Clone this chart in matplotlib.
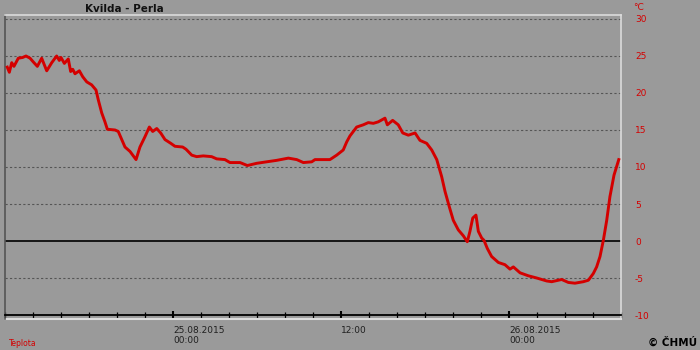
import matplotlib.pyplot as plt
import numpy as np

# hours since 24.08.2015 12:00, temperature in degrees C
hours = [0.16, 0.31, 0.48, 0.64, 0.95, 1.26, 1.5, 1.79, 2.02, 2.31, 2.62, 2.98,
         3.34, 3.69, 3.88, 4.0, 4.24, 4.52, 4.69, 4.84, 5.0, 5.31, 5.55, 5.84,
         6.19, 6.5, 6.66, 6.91, 7.14, 7.31, 7.86, 8.09, 8.57, 8.93, 9.36, 9.64,
         10.0, 10.31, 10.55, 10.84, 11.12, 11.43, 11.84, 12.14, 12.69, 12.93,
         13.34, 13.69, 14.16, 14.76, 15.12, 15.71, 16.07, 16.79, 17.31, 17.98,
         18.69, 19.41, 20.24, 20.84, 21.31, 21.91, 22.14, 22.98, 23.21, 23.69,
         24.16, 24.41, 24.64, 25.12, 25.59, 25.95, 26.31, 26.66, 27.14, 27.31,
         27.69, 28.09, 28.41, 28.81, 29.29, 29.64, 30.12, 30.48, 30.84, 31.19,
         31.43, 31.74, 32.02, 32.38, 32.74, 33.02, 33.21, 33.41, 33.64, 33.81,
         34.05, 34.21, 34.45, 34.76, 35.24, 35.71, 36.07, 36.31, 36.79, 37.38,
         37.98, 38.69, 39.05, 39.76, 40.24, 40.71, 41.31, 41.67, 42.02, 42.26,
         42.5, 42.74, 42.98, 43.21, 43.5, 43.84]
temps = [23.5, 22.8, 24.1, 23.6, 24.7, 24.8, 25.0, 24.7, 24.2, 23.6, 24.7, 23.0,
         24.1, 25.0, 24.4, 24.8, 24.0, 24.6, 22.9, 23.2, 22.6, 23.0, 22.2, 21.5,
         21.1, 20.4, 19.1, 17.3, 16.1, 15.1, 15.0, 14.8, 12.7, 12.1, 11.0, 12.7,
         14.1, 15.4, 14.8, 15.2, 14.6, 13.7, 13.2, 12.8, 12.7, 12.4,
         11.6, 11.4, 11.5, 11.4, 11.1, 11.0, 10.6, 10.6, 10.2, 10.5,
         10.7, 10.9, 11.2, 11.0, 10.6, 10.7, 11.0, 11.0, 11.0, 11.6,
         12.3, 13.4, 14.2, 15.4, 15.7, 16.0, 15.9, 16.1, 16.6, 15.7,
         16.3, 15.7, 14.6, 14.3, 14.6, 13.6, 13.2, 12.3, 11.0, 8.7,
         6.7, 4.6, 2.8, 1.5, 0.7, -0.1, 1.3, 3.1, 3.5, 1.3,
         0.4, 0.1, -1.0, -2.1, -2.9, -3.2, -3.8, -3.5, -4.3, -4.7,
         -5.0, -5.4, -5.5, -5.2, -5.6, -5.7, -5.5, -5.3, -4.4, -3.5,
         -2.1, 0.1, 2.8, 6.0, 8.9, 11.0]

y_ticks = [-10, -5, 0, 5, 10, 15, 20, 25, 30]
x_major = [12, 24, 36]
x_major_labels = ["25.08.2015\n00:00", "12:00", "26.08.2015\n00:00"]
x_minor = list(range(0, 45, 2))

bg = "#9a9a9a"
red = "#d40000"

fig = plt.figure(figsize=(7, 3.5), dpi=100, facecolor=bg)
ax = fig.add_axes([5 / 700, 31 / 350, 616 / 700, 304 / 350])
ax.set_facecolor(bg)
ax.set_xlim(0, 44)
ax.set_ylim(-10.54, 30.54)

# grid
for v in y_ticks:
    if v == 0:
        ax.axhline(v, color="black", lw=1.2, zorder=1)
    elif v != -10:
        ax.axhline(v, color="#555555", lw=0.8, ls=(0, (2, 2)), zorder=1)

ax.plot(hours, temps, color=red, lw=2.1, zorder=3)

# frame
for s in ["top", "right", "left"]:
    ax.spines[s].set_color("#dcdcdc")
    ax.spines[s].set_linewidth(1.2)
ax.spines["left"].set_color("#555555")
ax.plot([0, 1], [0, 0], transform=ax.transAxes, color="#dcdcdc", lw=1.5, clip_on=False)

# x axis at -10
ax.spines["bottom"].set_position(("data", -10))
ax.spines["bottom"].set_color("black")
ax.spines["bottom"].set_linewidth(1.3)
ax.set_xticks(x_major)
ax.set_xticklabels(x_major_labels, fontsize=6.5, color="#202020", ha="left",
                   linespacing=1.1)
ax.set_xticks(x_minor, minor=True)
ax.tick_params(axis="x", which="major", direction="inout", length=6, width=1.5,
               pad=5, color="black")
ax.tick_params(axis="x", which="minor", direction="inout", length=4.5, width=0.9,
               color="black")

# y axis on the right
ax.yaxis.tick_right()
ax.set_yticks(y_ticks)
ax.set_yticklabels([str(v) for v in y_ticks], fontsize=6.5, color=red)
ax.tick_params(axis="y", length=0, pad=10)

fig.text(124 / 700, 1 - 9 / 350, "Kvilda - Perla", fontsize=7.5, fontweight="bold",
         ha="center", va="center", color="#111111")
fig.text(638 / 700, 1 - 8 / 350, "°C", fontsize=6.5, color=red, ha="center", va="center")
fig.text(9 / 700, 1 - 344 / 350, "Teplota", fontsize=5.5, color=red, va="center")
fig.text(697 / 700, 1 - 343 / 350, "© ČHMÚ", fontsize=7.5, fontweight="bold",
         ha="right", va="center", color="black")

fig.savefig("out.png", dpi=100, facecolor=bg)
